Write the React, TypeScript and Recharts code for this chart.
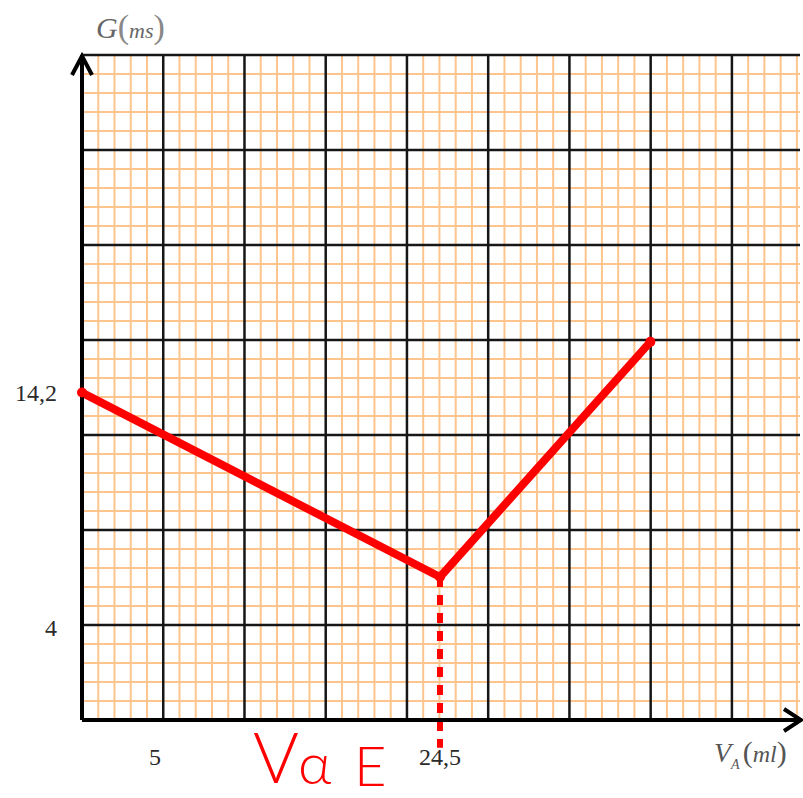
import React from 'react';
import {
  ComposedChart,
  Line,
  XAxis,
  YAxis,
  ReferenceLine,
  ReferenceDot,
} from 'recharts';

// Conductance G (mS) against added volume V_A (ml)
const volumes = [0, 24.5, 38.9];
const conductances = [14.2, 6.2, 16.4];

const xTicks = [5, 24.5];
const yTicks = [4, 14.2];

// equivalence volume marker, dropped a little below the axis
const EQUIV_V = 24.5;
const EQUIV_G = 6.2;
const DROP_END = -1.2;

// graph paper: 5 small squares per big square
const X_MAJOR = 5.56;
const Y_MAJOR = 4.12;
const X_MAX = 49.14;
const Y_MAX = Y_MAJOR * 7;

const data = volumes.map((v, i) => ({ v, g: conductances[i] }));

const W = 803;
const H = 798;
const RED = '#ff0000';
const ORANGE = '#fdc58d';
const INK = '#161616';
const SERIF = '"Liberation Serif", "DejaVu Serif", serif';

const steps = (step: number, max: number) => {
  const out: number[] = [];
  for (let i = 1; i * step <= max + 1e-6; i++) out.push(+(i * step).toFixed(4));
  return out;
};

const minorX = steps(X_MAJOR / 5, X_MAX).filter((_, i) => (i + 1) % 5 !== 0);
const majorX = steps(X_MAJOR, X_MAX);
const minorY = steps(Y_MAJOR / 5, Y_MAX).filter((_, i) => (i + 1) % 5 !== 0);
const majorY = steps(Y_MAJOR, Y_MAX);

const comma = (v: number) => String(v).replace('.', ',');

const UpArrow = ({ cx, cy }: any) => (
  <path
    d={`M ${cx - 10} ${cy + 20} L ${cx} ${cy + 1} L ${cx + 10} ${cy + 20}`}
    fill="none"
    stroke="#000"
    strokeWidth={4}
  />
);

const RightArrow = ({ cx, cy }: any) => (
  <path
    d={`M ${cx - 16} ${cy - 11} L ${cx + 1} ${cy} L ${cx - 16} ${cy + 11}`}
    fill="none"
    stroke="#000"
    strokeWidth={4}
  />
);

export default function App() {
  return (
    <div style={{ position: 'absolute', left: 0, top: 0, width: W, height: H, background: '#fff' }}>
      <ComposedChart
        width={W}
        height={H}
        data={data}
        margin={{ top: 55, right: 3, left: 0, bottom: 0 }}
      >
        <XAxis
          dataKey="v"
          type="number"
          domain={[0, X_MAX]}
          ticks={xTicks}
          tickFormatter={comma}
          height={78}
          tickLine={false}
          tickMargin={22}
          axisLine={{ stroke: '#000', strokeWidth: 4 }}
          tick={{ fontSize: 24, fill: '#2a2a2a', fontFamily: SERIF }}
        />
        <YAxis
          type="number"
          domain={[0, Y_MAX]}
          ticks={yTicks}
          tickFormatter={comma}
          width={82}
          tickLine={false}
          tickMargin={19}
          axisLine={{ stroke: '#000', strokeWidth: 4 }}
          tick={{ fontSize: 24, fill: '#2a2a2a', fontFamily: SERIF }}
        />

        {minorX.map((x) => (
          <ReferenceLine key={`mx${x}`} x={x} stroke={ORANGE} strokeWidth={2} />
        ))}
        {minorY.map((y) => (
          <ReferenceLine key={`my${y}`} y={y} stroke={ORANGE} strokeWidth={2} />
        ))}
        {majorX.map((x) => (
          <ReferenceLine key={`Mx${x}`} x={x} stroke={INK} strokeWidth={2.5} />
        ))}
        {majorY.map((y) => (
          <ReferenceLine key={`My${y}`} y={y} stroke={INK} strokeWidth={2.5} />
        ))}

        <ReferenceDot x={0} y={Y_MAX} r={0} ifOverflow="visible" shape={UpArrow} />
        <ReferenceDot x={X_MAX} y={0} r={0} ifOverflow="visible" shape={RightArrow} />

        <ReferenceLine
          segment={[
            { x: EQUIV_V, y: EQUIV_G },
            { x: EQUIV_V, y: DROP_END },
          ]}
          ifOverflow="visible"
          stroke={RED}
          strokeWidth={6}
          strokeDasharray="10 8"
        />

        <Line
          dataKey="g"
          type="linear"
          stroke={RED}
          strokeWidth={8}
          strokeLinecap="round"
          strokeLinejoin="round"
          dot={{ r: 5, fill: RED, stroke: 'none' }}
          isAnimationActive={false}
        />
      </ComposedChart>

      {/* axis titles and the handwritten note */}
      <svg
        width={W}
        height={H}
        style={{ position: 'absolute', left: 0, top: 0, pointerEvents: 'none' }}
      >
        <text x={96} y={38} fontFamily={SERIF} fontStyle="italic" fill="#666">
          <tspan fontSize={30}>G</tspan>
          <tspan fontSize={34} fontStyle="normal" fill="#888">(</tspan>
          <tspan fontSize={22}>ms</tspan>
          <tspan fontSize={34} fontStyle="normal" fill="#888">)</tspan>
        </text>
        <text x={714} y={762} fontFamily={SERIF} fontStyle="italic" fill="#555">
          <tspan fontSize={28}>V</tspan>
          <tspan fontSize={14} dy={7}>A</tspan>
          <tspan fontSize={30} dy={-7} fontStyle="normal" dx={3}>(</tspan>
          <tspan fontSize={24}>ml</tspan>
          <tspan fontSize={30} fontStyle="normal">)</tspan>
        </text>
        <text fontFamily="Lato, 'DejaVu Sans', sans-serif" fontWeight={300} fill={RED}>
          <tspan x={253} y={783} fontSize={70}>V</tspan>
          <tspan x={298} y={784} fontSize={58}>α</tspan>
          <tspan x={354} y={786} fontSize={56}>E</tspan>
        </text>
      </svg>
    </div>
  );
}
